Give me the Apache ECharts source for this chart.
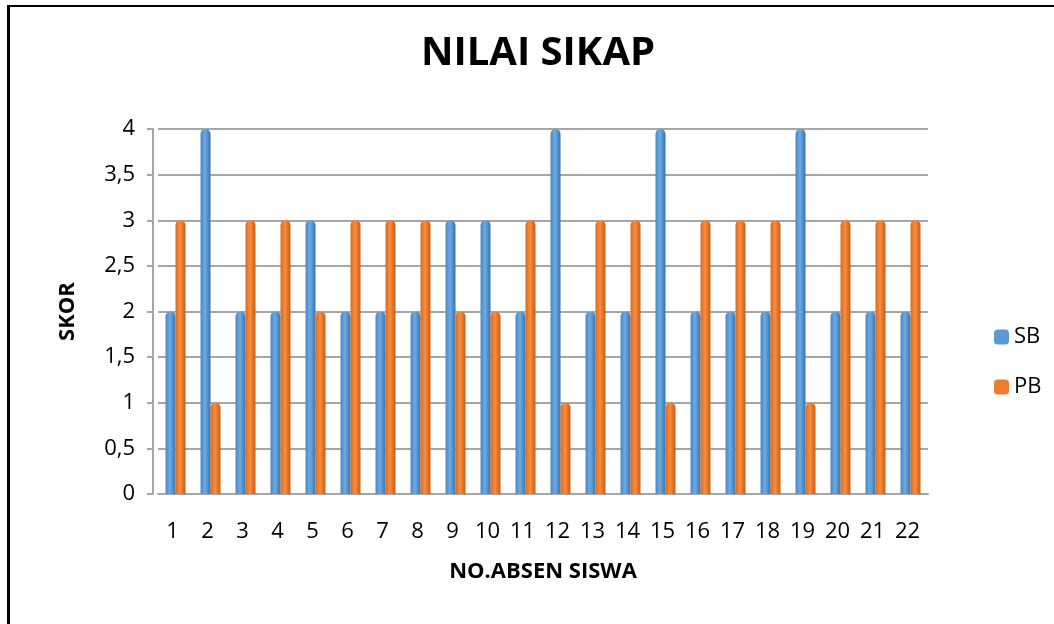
<!DOCTYPE html>
<html>
<head>
<meta charset="utf-8">
<script src="https://cdn.jsdelivr.net/npm/echarts@6/dist/echarts.min.js"></script>
<style>
  body { margin: 0; background: #fff; }
  #chart { position: absolute; left: 0; top: 0; width: 1054px; height: 624px; }
  .frame {
    position: absolute; left: 7px; top: 5px; width: 1060px; height: 640px;
    border-left: 3px solid #000; border-top: 2px solid #000;
    pointer-events: none;
  }
</style>
</head>
<body>
<div id="chart"></div>
<div class="frame"></div>
<script>
// data
var categories = ["1","2","3","4","5","6","7","8","9","10","11","12","13","14","15","16","17","18","19","20","21","22"];
var sbValues = [2,4,2,2,3,2,2,2,3,3,2,4,2,2,4,2,2,2,4,2,2,2];
var pbValues = [3,1,3,3,2,3,3,3,2,2,3,1,3,3,1,3,3,3,1,3,3,3];
var yTicks = [0, 0.5, 1, 1.5, 2, 2.5, 3, 3.5, 4];

var fontFam = "'Open Sans', 'DejaVu Sans', sans-serif";

function cylinder(dark, light, darker) {
  return new echarts.graphic.LinearGradient(0, 0, 1, 0, [
    { offset: 0, color: dark },
    { offset: 0.45, color: light },
    { offset: 1, color: darker }
  ]);
}

var myChart = echarts.init(document.getElementById("chart"));
var option = {
  backgroundColor: "#fff",
  animation: false,
  title: {
    text: "NILAI SIKAP",
    left: 416,
    top: 29,
    textStyle: { fontFamily: fontFam, fontSize: 40, fontWeight: "bold", color: "#000" }
  },
  legend: {
    orient: "vertical",
    left: 989,
    top: 321,
    itemWidth: 15,
    itemHeight: 15,
    itemGap: 28,
    textStyle: { fontFamily: fontFam, fontSize: 22, color: "#000" },
    data: [
      { name: "SB", itemStyle: { color: "#5b9bd5" } },
      { name: "PB", itemStyle: { color: "#ed7d31" } }
    ]
  },
  grid: { left: 158, right: 126, top: 129, bottom: 130 },
  xAxis: {
    type: "category",
    data: categories,
    name: "NO.ABSEN SISWA",
    nameLocation: "middle",
    nameGap: 67,
    nameTextStyle: { fontFamily: fontFam, fontSize: 22, fontWeight: "bold", color: "#000" },
    axisLine: { lineStyle: { color: "#a6a6a6", width: 2 } },
    axisTick: { show: false },
    axisLabel: {
      fontFamily: fontFam, fontSize: 22, color: "#000", margin: 27,
      interval: 0, padding: [0, 6, 0, 0]
    }
  },
  yAxis: {
    type: "value",
    min: 0,
    max: 4,
    interval: 0.5,
    offset: 5,
    name: "SKOR",
    nameLocation: "middle",
    nameGap: 74,
    nameTextStyle: { fontFamily: fontFam, fontSize: 22, fontWeight: "bold", color: "#000" },
    axisLine: { show: true, lineStyle: { color: "#a6a6a6", width: 2 } },
    axisTick: { show: true, length: 6, lineStyle: { color: "#a6a6a6", width: 2 } },
    axisLabel: {
      fontFamily: fontFam, fontSize: 22, color: "#000", margin: 18,
      formatter: function (v) {
        return yTicks.indexOf(v) >= 0 ? String(v).replace(".", ",") : "";
      }
    },
    splitLine: { lineStyle: { color: "#a6a6a6", width: 2 } }
  },
  series: [
    {
      name: "SB",
      type: "bar",
      barWidth: 10,
      barGap: "0%",
      data: sbValues,
      itemStyle: {
        color: cylinder("#4a86c4", "#6cabe3", "#3a72ad"),
        borderRadius: [5, 5, 0, 0]
      }
    },
    {
      name: "PB",
      type: "bar",
      barWidth: 10,
      barGap: "0%",
      data: pbValues,
      itemStyle: {
        color: cylinder("#d8691f", "#fb8d3d", "#c55d18"),
        borderRadius: [5, 5, 0, 0]
      }
    }
  ]
};
myChart.setOption(option);
</script>
</body>
</html>
